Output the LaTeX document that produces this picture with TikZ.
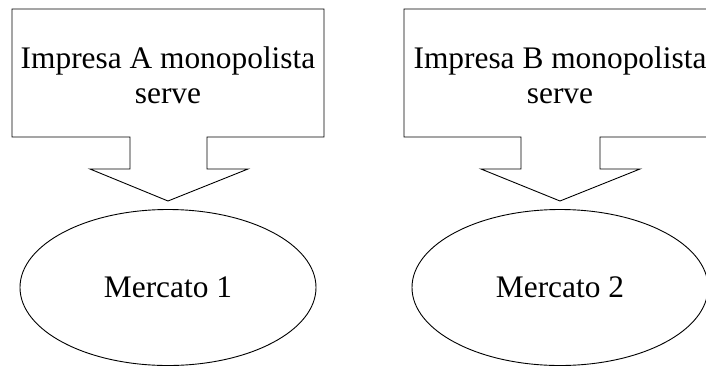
\documentclass[tikz,border=0pt]{standalone}
\usepackage{fontspec}
\setmainfont{Liberation Serif}
\usetikzlibrary{shapes.geometric}
\begin{document}
\begin{tikzpicture}[x=1bp,y=-1bp,
  outline/.style={draw=black,line width=0.9bp,line join=miter},
  boxtext/.style={align=center,inner sep=0pt,font=\fontsize{31.5}{35.1}\selectfont},
  market/.style={outline,ellipse,minimum width=296bp,minimum height=156bp,inner sep=0pt,font=\fontsize{31.5}{35.1}\selectfont}]
\useasboundingbox (0,0) rectangle (706,367);
\clip (0,0) rectangle (706,367);
% callout A
\draw[outline] (12,9) -- (324,9) -- (324,137) -- (207,137) -- (207,169) -- (248,169) -- (168,201) -- (90,169) -- (130,169) -- (130,137) -- (12,137) -- cycle;
\node[boxtext] (ta) at (168,75) {Impresa A monopolista\\serve};
\node[market] (m1) at (168,287.5) {Mercato 1};
% callout B
\draw[outline] (404,9) -- (716,9) -- (716,137) -- (600,137) -- (600,169) -- (640,169) -- (560,201) -- (481,169) -- (521,169) -- (521,137) -- (404,137) -- cycle;
\node[boxtext] (tb) at (560,75) {Impresa B monopolista\\serve};
\node[market] (m2) at (560,287.5) {Mercato 2};
\end{tikzpicture}
\end{document}
